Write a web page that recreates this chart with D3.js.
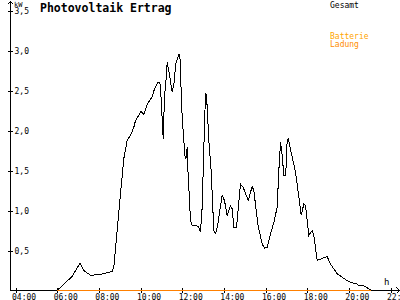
<!DOCTYPE html>
<html><head><meta charset="utf-8">
<script src="https://cdn.jsdelivr.net/npm/d3@7"></script>
<style>
html,body{margin:0;padding:0;background:#fff;}
svg{display:block;}
text{font-family:"DejaVu Sans Mono","Liberation Mono",monospace;}
</style></head>
<body>
<script>
// ---- data ----
const title = "Photovoltaik Ertrag";
const yUnit = "kW";
const xUnit = "h";
const xTicks = [4, 6, 8, 10, 12, 14, 16, 18, 20, 22];
const yTicks = [0.5, 1.0, 1.5, 2.0, 2.5, 3.0, 3.5];
const legendNames = ["Gesamt", "Batterie", "Ladung"];
// Gesamt (total PV yield), time in decimal hours, power in kW
const pvHours = [6.00,6.40,6.72,7.09,7.28,7.60,8.08,8.64,8.72,9.01,9.20,9.36,9.52,9.68,9.76,10.03,10.16,10.32,10.45,10.56,10.67,10.83,10.93,10.99,11.06,11.09,11.15,11.25,11.28,11.36,11.52,11.63,11.68,11.84,11.89,11.95,12.00,12.08,12.13,12.18,12.24,12.27,12.40,12.48,12.69,12.80,12.88,12.96,13.04,13.12,13.17,13.28,13.39,13.52,13.61,13.71,13.92,14.03,14.16,14.32,14.40,14.48,14.61,14.80,14.93,15.17,15.36,15.44,15.63,15.84,15.95,16.08,16.24,16.40,16.56,16.64,16.72,16.78,16.88,16.97,17.04,17.09,17.28,17.44,17.60,17.71,17.84,17.92,18.08,18.24,18.32,18.48,18.96,19.12,19.44,19.76,20.08,20.40,20.48,20.72,20.96,21.04];
const pvKW    = [0.00,0.10,0.175,0.34,0.25,0.19,0.20,0.24,0.29,1.125,1.65,1.875,1.94,2.04,2.125,2.24,2.20,2.33,2.38,2.42,2.52,2.60,2.60,2.40,2.04,1.90,2.42,2.71,2.85,2.75,2.48,2.625,2.83,2.95,2.94,2.50,2.17,1.875,1.69,1.65,1.79,1.54,0.875,0.81,0.81,0.79,0.73,1.04,1.79,2.46,2.44,1.875,1.50,0.75,0.71,0.83,1.19,1.125,0.94,1.06,1.02,0.79,0.79,1.33,1.29,1.125,1.30,1.25,0.83,0.58,0.53,0.54,0.71,0.85,1.04,1.50,1.85,1.75,1.44,1.44,1.875,1.90,1.67,1.48,1.17,0.94,1.08,1.06,0.69,0.75,0.69,0.375,0.425,0.33,0.21,0.15,0.10,0.08,0.06,0.06,0.02,0.01];
// Batterie Ladung (battery charging)
const batHours = [6.00, 21.04];
const batKW    = [0, 0];

// ---- chart ----
const W = 400, H = 300;
const svg = d3.select("body").append("svg").attr("width", W).attr("height", H);
const x = d3.scaleLinear().domain([4, 22]).range([15.5, 390.5]);
const y = d3.scaleLinear().domain([0, 3.5]).range([290.5, 10.5]);
const axisX = 10.5, axisY = y(0);

// x axis
const gx = svg.append("g").attr("transform", `translate(0,${axisY})`)
  .call(d3.axisBottom(x).tickValues(xTicks).tickSize(0)
        .tickFormat(d => String(d).padStart(2, "0") + ":00"));
gx.select(".domain").remove();
gx.selectAll(".tick line").attr("y1", -2.5).attr("y2", 2.5).attr("stroke", "#000").attr("shape-rendering", "crispEdges");
gx.selectAll(".tick text").attr("text-anchor", "start").attr("dx", -4).attr("y", 9).attr("dy", 0)
  .attr("font-family", "DejaVu Sans Mono").attr("font-size", 8).attr("fill", "#000");

// y axis
const gy = svg.append("g").attr("transform", `translate(${axisX},0)`)
  .call(d3.axisRight(y).tickValues(yTicks).tickSize(0)
        .tickFormat(d => d3.format(".1f")(d).replace(".", ",")));
gy.select(".domain").remove();
gy.selectAll(".tick line").attr("x1", -2.5).attr("x2", 2.5).attr("stroke", "#000").attr("shape-rendering", "crispEdges");
gy.selectAll(".tick text").attr("text-anchor", "start").attr("x", 4).attr("dy", "0.35em")
  .attr("font-family", "DejaVu Sans Mono").attr("font-size", 8).attr("fill", "#000");

// axis lines with arrows
svg.append("path").attr("d", `M${axisX},290.5V1.5M7.5,4.5L${axisX},1.5L13.5,4.5`)
  .attr("fill", "none").attr("stroke", "#000").attr("shape-rendering", "crispEdges");
svg.append("path").attr("d", `M${axisX},${axisY}H399.5M396.5,287.5L399.5,${axisY}L396.5,293.5`)
  .attr("fill", "none").attr("stroke", "#000").attr("shape-rendering", "crispEdges");

// unit labels
svg.append("text").attr("x", 14).attr("y", 6.5).attr("font-size", 7).text(yUnit);
svg.append("text").attr("x", 384).attr("y", 285).attr("font-size", 9).text(xUnit);

// title
svg.append("text").attr("x", 40).attr("y", 12).attr("font-size", 11.5).attr("font-weight", "bold").text(title);

// series
const line = d3.line().x(d => x(d[0])).y(d => y(d[1]));
svg.append("path").datum(d3.zip(pvHours, pvKW)).attr("d", line)
  .attr("fill", "none").attr("stroke", "#000").attr("stroke-width", 1).attr("shape-rendering", "crispEdges");
svg.append("path").datum(d3.zip(batHours, batKW)).attr("d", line)
  .attr("fill", "none").attr("stroke", "#ff8000").attr("stroke-width", 1).attr("shape-rendering", "crispEdges");

// legend
const legendColors = ["#000", "#ffa500", "#ff8c00"];
const legendY = [7.5, 38.5, 46.5];
svg.selectAll(".leg").data(legendNames).enter().append("text")
  .attr("x", 330).attr("y", (d, i) => legendY[i]).attr("font-size", 8)
  .attr("fill", (d, i) => legendColors[i]).text(d => d);
</script>
</body></html>
